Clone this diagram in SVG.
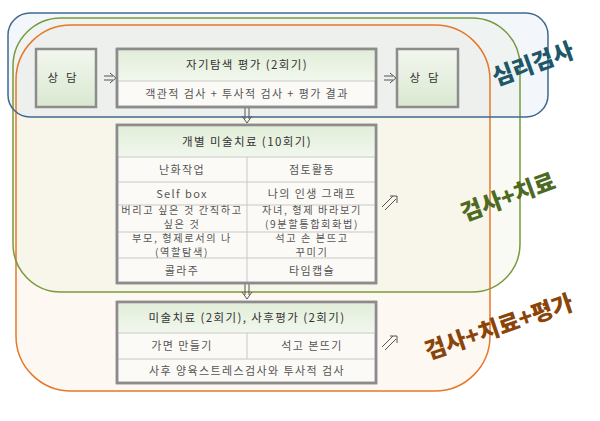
<svg xmlns="http://www.w3.org/2000/svg" width="600" height="421" viewBox="0 0 600 421">
<defs>
<linearGradient id="gBox" x1="0" y1="0" x2="0" y2="1">
<stop offset="0" stop-color="#f3f7ef"/>
<stop offset="1" stop-color="#d9e8d0"/>
</linearGradient>
<linearGradient id="gHead" x1="0" y1="0" x2="0" y2="1">
<stop offset="0" stop-color="#e2eed9"/>
<stop offset="1" stop-color="#f2f7ee"/>
</linearGradient>
<style>
.frame{fill:#fbfaf7;stroke:#8c8c8c;stroke-width:2.5}
.cell{fill:none;stroke:#c8c8c4;stroke-width:1}
.t{font-family:"Noto Sans CJK KR","Noto Sans",sans-serif;font-size:11px;fill:#555;text-anchor:middle;letter-spacing:1.4px}
.t2{font-family:"Noto Sans CJK KR","Noto Sans",sans-serif;font-size:10.2px;fill:#555;text-anchor:middle;letter-spacing:1.6px}
.h{font-family:"Noto Sans CJK KR","Noto Sans",sans-serif;font-size:11.5px;fill:#333;text-anchor:middle;letter-spacing:1.4px}
.lab{font-family:"Noto Sans CJK KR",sans-serif;font-weight:900;font-size:23px;text-anchor:middle}
.arr{fill:none;stroke:#555;stroke-width:1}
</style>
</defs>
<rect width="600" height="421" fill="#ffffff"/>
<g id="regions">
<rect x="16" y="25" width="474" height="366" rx="55" ry="55" fill="#fdf8f2"/>
<rect x="13" y="18" width="507" height="274" rx="48" ry="48" fill="#eef0dc" fill-opacity="0.35"/>
<rect x="8" y="13" width="540" height="104" rx="22" ry="22" fill="#dde9f4" fill-opacity="0.35"/>
<rect x="16" y="25" width="474" height="366" rx="55" ry="55" fill="none" stroke="#e8772a" stroke-width="1.5"/>
<rect x="13" y="18" width="507" height="274" rx="48" ry="48" fill="none" stroke="#789a3c" stroke-width="1.5"/>
<rect x="8" y="13" width="540" height="104" rx="22" ry="22" fill="none" stroke="#3e6991" stroke-width="1.5"/>
</g>
<g id="connectors">
<path class="arr" d="M104 76H113M104 80H113M110 73L116 78L110 83"/>
<path class="arr" d="M384 76H393M384 80H393M390 73L396 78L390 83"/>
<path class="arr" d="M245 107V119M249 107V119M242 116L247 123L252 116"/>
<path class="arr" d="M245 283V295M249 283V295M242 292L247 299L252 292"/>
<path class="arr" d="M382 207L393 196M385 210L396 199M390 196L397 196L397 203"/>
<path class="arr" d="M382 347L393 336M385 350L396 339M390 336L397 336L397 343"/>
</g>
<g id="node-counsel-1">
<rect x="36" y="49" width="60" height="58" fill="url(#gBox)" stroke="#8c8c8c" stroke-width="2.5"/>
<text class="h" x="66" y="82" style="letter-spacing:8px">상담</text>
</g>
<g id="node-self-exploration">
<rect class="frame" x="117" y="49" width="259" height="58"/>
<rect x="118.5" y="50.5" width="256" height="30.5" fill="url(#gHead)"/>
<line class="cell" x1="118" y1="81" x2="375" y2="81" stroke="#aaa"/>
<rect class="frame" x="117" y="49" width="259" height="58" style="fill:none"/>
<text class="h" x="247" y="69">자기탐색 평가 (2회기)</text>
<text class="t" x="247" y="98">객관적 검사 + 투사적 검사 + 평가 결과</text>
</g>
<g id="node-counsel-2">
<rect x="397" y="49" width="61" height="58" fill="url(#gBox)" stroke="#8c8c8c" stroke-width="2.5"/>
<text class="h" x="428" y="82" style="letter-spacing:8px">상담</text>
</g>
<g id="node-art-therapy">
<rect class="frame" x="117" y="125" width="259" height="158"/>
<rect x="118.5" y="126.5" width="256" height="30.5" fill="url(#gHead)"/>
<path class="cell" d="M118 157H375M118 182H375M118 205H375M118 232H375M118 258H375M247 157V282"/>
<rect class="frame" x="117" y="125" width="259" height="158" style="fill:none"/>
<text class="h" x="247" y="146">개별 미술치료 (10회기)</text>
<text class="t" x="182" y="174">난화작업</text>
<text class="t" x="312" y="174">점토활동</text>
<text class="t" x="182" y="198">Self box</text>
<text class="t" x="312" y="198">나의 인생 그래프</text>
<text class="t2" x="182" y="214">버리고 싶은 것 간직하고</text>
<text class="t2" x="182" y="227.5">싶은 것</text>
<text class="t2" x="312" y="214">자녀, 형제 바라보기</text>
<text class="t2" x="312" y="227.5">(9분할통합회화법)</text>
<text class="t2" x="182" y="242">부모, 형제로서의 나</text>
<text class="t2" x="182" y="255.5">(역할탐색)</text>
<text class="t2" x="312" y="242">석고 손 본뜨고</text>
<text class="t2" x="312" y="255.5">꾸미기</text>
<text class="t" x="182" y="275">콜라주</text>
<text class="t" x="312" y="275">타임캡슐</text>
</g>
<g id="node-post-eval">
<rect class="frame" x="117" y="302" width="259" height="81"/>
<rect x="118.5" y="303.5" width="256" height="29.5" fill="url(#gHead)"/>
<path class="cell" d="M118 333H375M118 359H375M247 333V359"/>
<rect class="frame" x="117" y="302" width="259" height="81" style="fill:none"/>
<text class="h" x="247" y="322">미술치료 (2회기), 사후평가 (2회기)</text>
<text class="t" x="182" y="350">가면 만들기</text>
<text class="t" x="312" y="350">석고 본뜨기</text>
<text class="t" x="247" y="375">사후 양육스트레스검사와 투사적 검사</text>
</g>
<g id="labels">
<text class="lab" transform="translate(533,64) rotate(-20)" x="0" y="8" fill="#1e566a">심리검사</text>
<text class="lab" transform="translate(508,197) rotate(-20)" x="0" y="8" fill="#4d6a22">검사+치료</text>
<text class="lab" transform="translate(499,327) rotate(-19)" x="0" y="8" fill="#8a4408">검사+치료+평가</text>
</g>
</svg>
